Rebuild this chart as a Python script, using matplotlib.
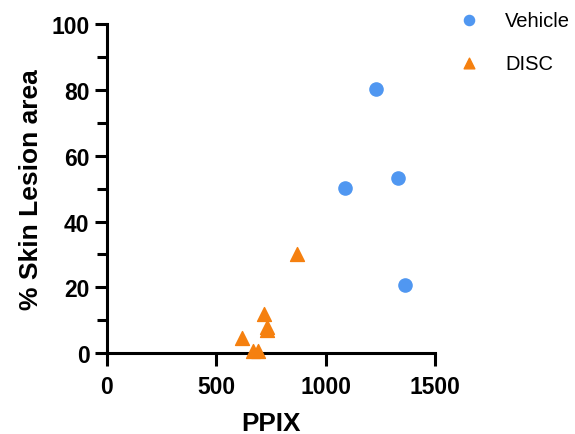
import matplotlib
matplotlib.use("Agg")
from matplotlib import pyplot as plt
from matplotlib.ticker import MultipleLocator

plt.rcParams['font.family'] = ['Liberation Sans', 'DejaVu Sans']

# data
vehicle_x = [1087, 1229, 1330, 1362]
vehicle_y = [50.2, 80.3, 53.2, 20.7]
disc_x = [615, 668, 688, 717, 730, 733, 867]
disc_y = [4.5, 0.5, 0.5, 12.0, 8.0, 7.0, 30.0]

x_ticks = [0, 500, 1000, 1500]
y_ticks = [0, 20, 40, 60, 80, 100]

blue = '#5097f1'
orange = '#f5800f'

fig = plt.figure(figsize=(5.75, 4.35), dpi=100)
ax = fig.add_axes([0.186, 0.186, 0.571, 0.756])

ax.scatter(vehicle_x, vehicle_y, s=90, marker='o', color=blue, label='Vehicle', clip_on=False, zorder=3)
ax.scatter(disc_x, disc_y, s=100, marker='^', color=orange, label='DISC', clip_on=False, zorder=3)

ax.set_xlim(0, 1500)
ax.set_ylim(0, 100)
ax.set_xticks(x_ticks)
ax.set_yticks(y_ticks)
ax.yaxis.set_minor_locator(MultipleLocator(10))

for s in ['top', 'right']:
    ax.spines[s].set_visible(False)
for s in ['left', 'bottom']:
    ax.spines[s].set_linewidth(2.2)
    ax.spines[s].set_capstyle('projecting')

ax.tick_params(which='major', length=9, width=2.2, labelsize=16.5)
ax.tick_params(which='minor', length=7, width=2.2)
ax.tick_params(axis='x', pad=7)
ax.tick_params(axis='y', pad=3.5)
for lab in ax.get_xticklabels() + ax.get_yticklabels():
    lab.set_fontweight('bold')

ax.set_xlabel('PPIX', fontsize=18.8, fontweight='bold')
ax.set_ylabel('% Skin Lesion area', fontsize=19, fontweight='bold')
ax.xaxis.set_label_coords(0.5, -0.175)
ax.yaxis.set_label_coords(-0.195, 0.5)

fig.legend(loc='upper left', bbox_to_anchor=(0.749, 1.015), frameon=False,
           fontsize=14.5, labelspacing=1.2, handletextpad=0.8, scatterpoints=1,
           markerscale=0.77)

fig.savefig('out.png', dpi=100)
